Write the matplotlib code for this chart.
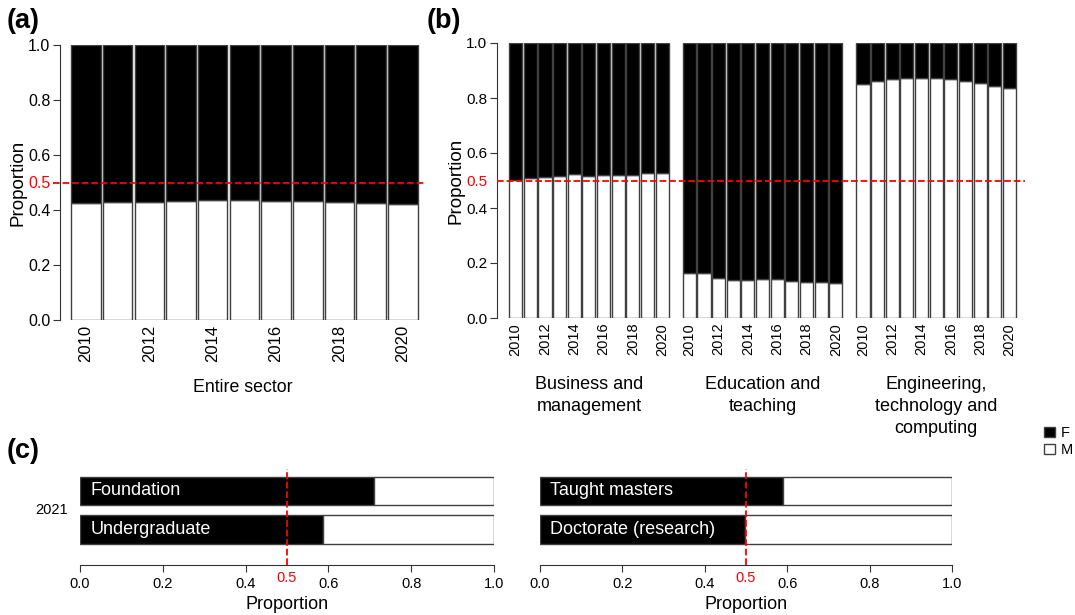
import numpy as np
import matplotlib
matplotlib.use("Agg")
import matplotlib.pyplot as plt
from matplotlib.patches import Patch

plt.rcParams['font.family'] = ['Liberation Sans', 'DejaVu Sans']

W, H = 1075, 615

# data: proportion of male students (white part); female = 1 - male
years = list(range(2010, 2021))
sector_m = [0.424, 0.428, 0.430, 0.434, 0.436, 0.435, 0.434, 0.433, 0.428, 0.425, 0.421]

subjects = ["Business and\nmanagement", "Education and\nteaching",
            "Engineering,\ntechnology and\ncomputing"]
business_m = [0.502, 0.508, 0.513, 0.516, 0.522, 0.518, 0.519, 0.519, 0.520, 0.527, 0.528]
education_m = [0.165, 0.163, 0.145, 0.137, 0.137, 0.143, 0.141, 0.134, 0.130, 0.131, 0.129]
engineering_m = [0.851, 0.863, 0.868, 0.872, 0.872, 0.874, 0.868, 0.863, 0.854, 0.844, 0.836]

levels_left = ["Foundation", "Undergraduate"]
levels_left_f = [0.71, 0.588]
levels_right = ["Taught masters", "Doctorate (research)"]
levels_right_f = [0.59, 0.497]

EDGE = '#404040'


def px(l, t, r, b):
    return [l / W, 1 - b / H, (r - l) / W, (b - t) / H]


def style_y(ax, fs):
    for s in ['top', 'right', 'bottom']:
        ax.spines[s].set_visible(False)
    ax.spines['left'].set_color('#333333')
    ax.set_ylim(0, 1)
    ax.set_yticks([0, 0.2, 0.4, 0.5, 0.6, 0.8, 1.0])
    ax.set_yticklabels(['0.0', '0.2', '0.4', '0.5', '0.6', '0.8', '1.0'], fontsize=fs)
    ax.get_yticklabels()[3].set_color('red')
    ax.yaxis.get_major_ticks()[3].tick1line.set_visible(False)
    ax.tick_params(axis='y', length=5, color='#333333', pad=2)
    ax.tick_params(axis='x', length=0)


fig = plt.figure(figsize=(W / 100, H / 100), dpi=100)

# (a) entire sector
ax_a = fig.add_axes(px(60, 45, 426, 320))
x = np.arange(len(years))
f = 1 - np.array(sector_m)
ax_a.bar(x, sector_m, width=0.93, color='white', edgecolor=EDGE, linewidth=1)
ax_a.bar(x, f, bottom=sector_m, width=0.93, color='black', edgecolor=EDGE, linewidth=1)
ax_a.set_xlim(-0.82, 10.73)
style_y(ax_a, 11.5)
ax_a.set_xticks(x[::2])
ax_a.set_xticklabels([str(y) for y in years[::2]], rotation=90, fontsize=12)
ax_a.axhline(0.5, xmin=-0.02, xmax=1, color='red', ls='--', lw=1.3, clip_on=False, zorder=5)
ax_a.set_ylabel('Proportion', fontsize=13.5, labelpad=1)
ax_a.text(0.5, -0.215, 'Entire sector', transform=ax_a.transAxes, ha='center',
          va='top', fontsize=12.8)

# (b) subjects
ax_b = fig.add_axes(px(497, 43, 1025, 318))
gap = 0.85
ticks, labels = [], []
for g, vals in enumerate([business_m, education_m, engineering_m]):
    xs = np.arange(11) + g * (11 + gap)
    m = np.array(vals)
    ax_b.bar(xs, m, width=0.9, color='white', edgecolor=EDGE, linewidth=1)
    ax_b.bar(xs, 1 - m, bottom=m, width=0.9, color='black', edgecolor=EDGE, linewidth=1)
    ticks += list(xs[::2])
    labels += [str(y) for y in years[::2]]
    ax_b.text(xs.mean(), -0.21, subjects[g], ha='center', va='top', fontsize=13,
              linespacing=1.38, transform=ax_b.get_xaxis_transform())
ax_b.set_xlim(-1.27, 34.76)
style_y(ax_b, 11)
ax_b.set_xticks(ticks)
ax_b.set_xticklabels(labels, rotation=90, fontsize=10.5)
ax_b.axhline(0.5, color='red', ls='--', lw=1.3, zorder=5)
ax_b.set_ylabel('Proportion', fontsize=13.5, labelpad=1)

# (c) study levels 2021
for (l, r), names, fem in [((80, 494), levels_left, levels_left_f),
                           ((540, 952), levels_right, levels_right_f)]:
    ax = fig.add_axes(px(l, 469, r, 565))
    ys = [1, 0]
    ax.barh(ys, fem, height=0.74, color='black', edgecolor=EDGE, linewidth=1)
    ax.barh(ys, 1 - np.array(fem), left=fem, height=0.74, color='white',
            edgecolor=EDGE, linewidth=1)
    for yy, nm in zip(ys, names):
        ax.text(0.025, yy, nm, color='white', fontsize=13, va='center', ha='left')
    ax.set_xlim(0, 1)
    ax.set_ylim(-0.92, 1.57)
    for s in ['top', 'right', 'left']:
        ax.spines[s].set_visible(False)
    ax.spines['bottom'].set_color('#333333')
    ax.set_yticks([])
    ax.set_xticks([0, 0.2, 0.4, 0.6, 0.8, 1.0])
    ax.set_xticklabels(['0.0', '0.2', '0.4', '0.6', '0.8', '1.0'], fontsize=10.5)
    ax.tick_params(axis='x', length=5, color='#333333', pad=4)
    ax.axvline(0.5, color='red', ls='--', lw=1.3, zorder=5)
    ax.text(0.5, -0.06, '0.5', color='red', fontsize=10.5, ha='center', va='top',
            transform=ax.transAxes)
    ax.set_xlabel('Proportion', fontsize=13, labelpad=3)
    if l == 80:
        ax.text(-0.068, 0.5, '2021', fontsize=10.5, ha='center', va='center',
                transform=ax.get_yaxis_transform())

# legend
handles = [Patch(facecolor='black', edgecolor=EDGE), Patch(facecolor='white', edgecolor=EDGE)]
fig.legend(handles, ['F', 'M'], loc='upper left', bbox_to_anchor=(1037 / W, 1 - 419 / H),
           frameon=False, fontsize=10.5, handlelength=0.7, handleheight=0.7,
           handletextpad=0.45, labelspacing=0.2, borderpad=0)

# panel labels
fig.text(7 / W, 1 - 21 / H, '(a)', fontsize=19.5, fontweight='bold', va='center')
fig.text(427 / W, 1 - 21 / H, '(b)', fontsize=19.5, fontweight='bold', va='center')
fig.text(7 / W, 1 - 451 / H, '(c)', fontsize=19.5, fontweight='bold', va='center')

fig.savefig('out.png', dpi=100)
